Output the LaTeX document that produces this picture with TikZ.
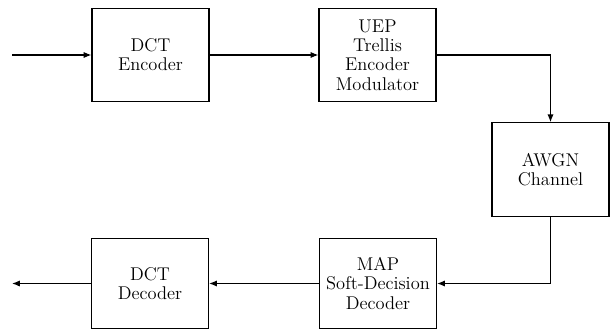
\documentclass[tikz,border=0pt]{standalone}
\usetikzlibrary{arrows.meta}
\begin{document}
\begin{tikzpicture}[
        x=0.0225cm, y=-0.0225cm,
        box/.style = {rectangle, draw=black, line width=0.8pt, minimum width=2.63cm, minimum height=2.1cm, align=center, inner sep=1pt, font=\fontsize{11.8}{12.3}\selectfont},
        arrow/.style = {line width=0.8pt, -{Latex[length=5pt,width=4pt]}}
    ]
    \useasboundingbox (0,0) rectangle (610,330);
    % ================= transmitter =================
    \coordinate (src) at (12,55);
    \node[box] (enc) at (150.5,55) {DCT\\Encoder};
    \node[box] (uep) at (377.5,55) {UEP\\Trellis\\Encoder\\Modulator};
    %
    \draw[arrow] (src) -- (enc);
    \draw[arrow] (enc) -- (uep);

    % ================= channel =================
    \node[box] (awgn) at (550.5,169.5) {AWGN\\Channel};
    \draw[arrow] (uep.east) -| (awgn.north);

    % ================= receiver =================
    \node[box, minimum height=2.03cm] (map) at (378,283.5) {MAP\\Soft-Decision\\Decoder};
    \node[box, minimum height=2.03cm] (dec) at (150,283.5) {DCT\\Decoder};
    \coordinate (sink) at (12,283.5);
    %
    \draw[arrow] (awgn.south) |- (map.east);
    \draw[arrow] (map) -- (dec);
    \draw[arrow] (dec) -- (sink);

    \end{tikzpicture}
\end{document}
